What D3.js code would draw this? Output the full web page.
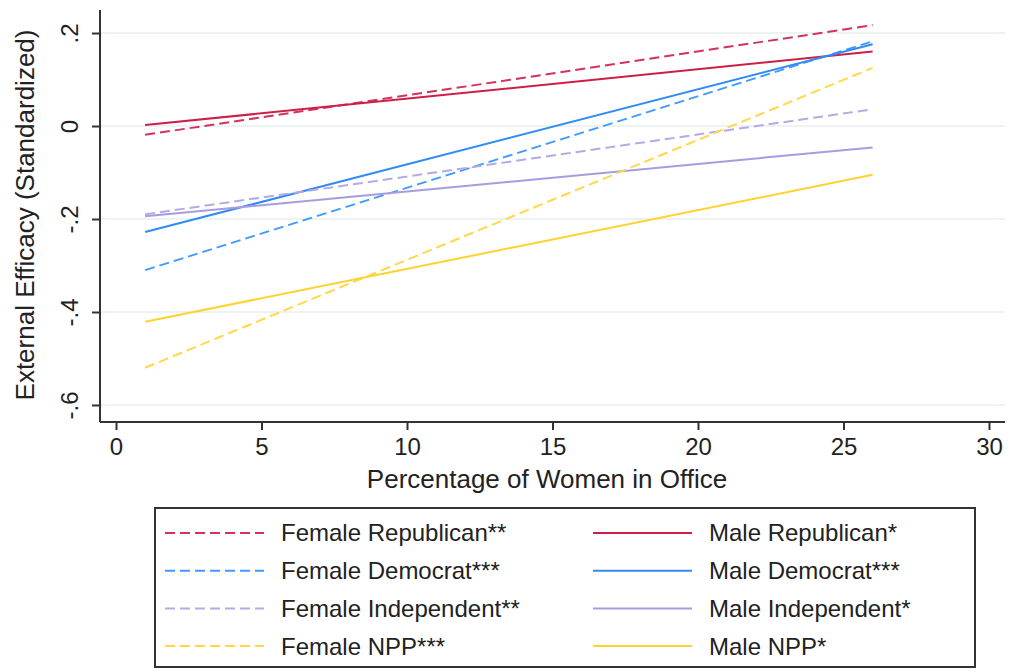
<!DOCTYPE html>
<html>
<head>
<meta charset="utf-8">
<script src="https://cdn.jsdelivr.net/npm/d3@7/dist/d3.min.js"></script>
<style>
body{margin:0;background:#fff;}
svg text{font-family:"Liberation Sans",Arial,sans-serif;fill:#222;}
</style>
</head>
<body>
<svg id="svg" width="1027" height="671"></svg>
<script>
// predicted efficacy at 1% and 26% women in office
var xEnds=[1,26];
var seriesNames=["Female Republican**","Male Republican*","Female Democrat***","Male Democrat***",
  "Female Independent**","Male Independent*","Female NPP***","Male NPP*"];
var seriesValues=[[-0.019,0.217],[0.002,0.160],[-0.310,0.182],[-0.228,0.176],
  [-0.190,0.036],[-0.194,-0.046],[-0.520,0.125],[-0.421,-0.105]];
var seriesColors=["#d3325a","#cc1f48","#3f9bff","#2f8cf5","#b3aae6","#a79ce0","#ffd84a","#ffd22e"];
var seriesDashed=[true,false,true,false,true,false,true,false];
var xTicks=[0,5,10,15,20,25,30];
var yTicks=[0.2,0,-0.2,-0.4,-0.6];
var yTickLabels=[".2","0","-.2","-.4","-.6"];

var svg=d3.select("#svg");
var x=d3.scaleLinear().domain([-0.55,30.55]).range([100,1005]);
var y=d3.scaleLinear().domain([-0.6366,0.2495]).range([422,10]);

// gridlines
svg.selectAll("line.grid").data(yTicks).enter().append("line")
  .attr("x1",101).attr("x2",1005)
  .attr("y1",function(d){return y(d)}).attr("y2",function(d){return y(d)})
  .style("stroke","#edf3f3").style("stroke-width",2);

// fitted lines
var line=d3.line().x(function(d){return x(d[0])}).y(function(d){return y(d[1])});
svg.selectAll("path.fit").data(seriesValues).enter().append("path")
  .attr("d",function(d){return line(xEnds.map(function(v,i){return [v,d[i]]}))})
  .style("fill","none")
  .style("stroke",function(d,i){return seriesColors[i]})
  .style("stroke-width",2)
  .style("stroke-dasharray",function(d,i){return seriesDashed[i]?"10,5":null});

// axes
var xAxis=d3.axisBottom(x).tickValues(xTicks).tickSize(8).tickSizeOuter(0).tickPadding(8);
var gx=svg.append("g").attr("transform","translate(0,422)").call(xAxis);
gx.select(".domain").attr("d","M100,0H1005");
var yAxis=d3.axisLeft(y).tickValues(yTicks).tickSize(8).tickSizeOuter(0)
  .tickFormat(function(d,i){return yTickLabels[i]});
var gy=svg.append("g").attr("transform","translate(100,0)").call(yAxis);
gy.select(".domain").attr("d","M0,10V422");
svg.selectAll(".domain").style("stroke","#333").style("stroke-width",2);
svg.selectAll(".tick line").style("stroke","#333").style("stroke-width",2);
gx.selectAll(".tick text").style("font-size","24px").style("fill","#222").attr("dy","0.72em");
gy.selectAll(".tick text").style("font-size","24px").style("fill","#222")
  .attr("text-anchor","middle").attr("x",0).attr("dy",0)
  .attr("transform","translate(-22,0) rotate(-90)");

svg.append("text").text("Percentage of Women in Office")
  .attr("x",547).attr("y",488).attr("text-anchor","middle").style("font-size","26px");
svg.append("text").text("External Efficacy (Standardized)")
  .attr("transform","translate(34,215) rotate(-90)").attr("text-anchor","middle").style("font-size","26px");

// legend
var lg=svg.append("g");
lg.append("rect").attr("x",155).attr("y",508).attr("width",820).attr("height",159)
  .style("fill","#fff").style("stroke","#333").style("stroke-width",2);
var item=lg.selectAll("g.item").data(seriesNames).enter().append("g")
  .attr("transform",function(d,i){return "translate("+(i%2?593:165)+","+(533+Math.floor(i/2)*37.7)+")"});
item.append("line").attr("x1",0).attr("x2",99).attr("y1",0).attr("y2",0)
  .style("stroke",function(d,i){return seriesColors[i]}).style("stroke-width",2)
  .style("stroke-dasharray",function(d,i){return seriesDashed[i]?"10,5":null});
item.append("text").text(function(d){return d}).attr("x",116).attr("dy","0.35em").style("font-size","24px");
</script>
</body>
</html>
